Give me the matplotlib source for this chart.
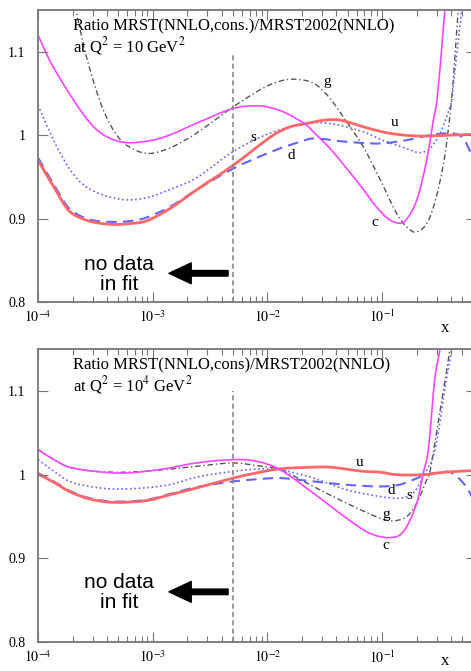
import numpy as np
import matplotlib
matplotlib.use('Agg')
import matplotlib.pyplot as plt
from matplotlib.path import Path
from matplotlib.patches import PathPatch
from matplotlib.ticker import FixedLocator, LogLocator, NullFormatter

plt.rcParams['font.family'] = ['Liberation Serif', 'DejaVu Serif']
plt.rcParams['mathtext.fontset'] = 'stix'

# ratio curves at Q^2 = 10 GeV^2 (log10 x, ratio)
lx_u10 = [-4.0, -3.85, -3.727, -3.55, -3.349, -3.2, -3.058, -2.85, -2.622, -2.297, -1.949, -1.8, -1.657,
          -1.5, -1.367, -1.164, -1.0, -0.873, -0.7, -0.582, -0.4, -0.18]
u10 = [0.970, 0.935, 0.909, 0.897, 0.893, 0.894, 0.897, 0.912, 0.934, 0.964, 1.000, 1.010, 1.014,
       1.018, 1.018, 1.010, 1.004, 1.001, 0.999, 0.999, 1.000, 1.001]

lx_d10 = [-4.0, -3.85, -3.727, -3.55, -3.349, -3.2, -3.058, -2.85, -2.622, -2.297, -1.949, -1.716, -1.6,
          -1.309, -1.018, -0.786, -0.582, -0.379, -0.292, -0.225, -0.18]
d10 = [0.973, 0.938, 0.912, 0.899, 0.896, 0.897, 0.901, 0.914, 0.934, 0.960, 0.981, 0.992, 0.996,
       0.992, 0.990, 0.994, 1.000, 1.002, 0.996, 0.978, 0.962]

lx_s10 = [-4.0, -3.85, -3.727, -3.6, -3.436, -3.233, -3.05, -2.855, -2.622, -2.297, -1.949, -1.657, -1.454,
          -1.164, -1.0, -0.873, -0.75, -0.670, -0.582, -0.495, -0.437, -0.393, -0.379, -0.306, -0.28]
s10 = [1.036, 0.990, 0.960, 0.940, 0.9285, 0.9225, 0.925, 0.9345, 0.9485, 0.9805, 1.004, 1.014, 1.014,
       1.004, 0.994, 0.988, 0.982, 0.979, 0.984, 1.002, 1.022, 1.042, 1.060, 1.150, 1.18]

lx_g10 = [-3.70, -3.663, -3.582, -3.436, -3.291, -3.15, -3.03, -2.9, -2.797, -2.622, -2.297, -2.093, -1.95,
          -1.803, -1.65, -1.570, -1.454, -1.309, -1.164, -1.018, -0.873, -0.786, -0.698, -0.582, -0.466,
          -0.393, -0.336, -0.31]
g10 = [1.17, 1.146, 1.096, 1.032, 0.996, 0.982, 0.978, 0.982, 0.988, 1.002, 1.034, 1.052, 1.062,
       1.067, 1.065, 1.060, 1.044, 1.016, 0.986, 0.947, 0.906, 0.890, 0.884, 0.902, 0.965,
       1.045, 1.150, 1.19]

lx_c10 = [-4.0, -3.9, -3.8, -3.727, -3.6, -3.5, -3.4, -3.233, -3.0, -2.855, -2.622, -2.297, -2.065, -1.9,
          -1.803, -1.657, -1.6, -1.454, -1.309, -1.164, -1.05, -0.95, -0.873, -0.8, -0.698, -0.611,
          -0.553, -0.519, -0.466, -0.44]
c10 = [1.120, 1.090, 1.066, 1.050, 1.024, 1.008, 0.998, 0.991, 0.994, 1.000, 1.014, 1.032, 1.035, 1.030,
       1.024, 1.012, 1.004, 0.984, 0.960, 0.935, 0.914, 0.900, 0.895, 0.897, 0.922, 0.970,
       1.018, 1.045, 1.128, 1.17]

# ratio curves at Q^2 = 10^4 GeV^2
lx_u4 = [-4.0, -3.85, -3.727, -3.55, -3.349, -3.058, -2.85, -2.622, -2.297, -2.1, -1.890, -1.6, -1.454,
         -1.164, -1.018, -0.873, -0.641, -0.45, -0.18]
u4 = [1.001, 0.990, 0.980, 0.971, 0.967, 0.969, 0.976, 0.984, 0.996, 1.002, 1.007, 1.009, 1.009,
      1.004, 1.003, 1.000, 1.000, 1.003, 1.005]

lx_d4 = [-4.0, -3.85, -3.727, -3.55, -3.349, -3.058, -2.85, -2.622, -2.297, -2.05, -1.890, -1.600, -1.309,
         -1.018, -0.85, -0.728, -0.611, -0.408, -0.292, -0.225, -0.18]
d4 = [1.002, 0.991, 0.981, 0.972, 0.968, 0.970, 0.977, 0.985, 0.992, 0.995, 0.996, 0.992, 0.988,
      0.986, 0.988, 0.994, 1.000, 1.003, 0.990, 0.976, 0.962]

lx_s4 = [-4.0, -3.85, -3.727, -3.55, -3.349, -3.1, -2.855, -2.622, -2.297, -2.05, -1.890, -1.600, -1.309,
         -1.018, -0.844, -0.728, -0.641, -0.539, -0.437, -0.393, -0.37]
s4 = [1.018, 1.003, 0.992, 0.986, 0.983, 0.984, 0.988, 0.997, 1.004, 1.007, 1.006, 0.996, 0.982,
      0.974, 0.972, 0.978, 0.998, 1.030, 1.116, 1.150, 1.18]

lx_g4 = [-4.0, -3.85, -3.727, -3.5, -3.233, -2.9, -2.622, -2.297, -2.1, -1.890, -1.600, -1.309, -1.018,
         -0.902, -0.786, -0.698, -0.611, -0.582, -0.495, -0.408, -0.39]
g4 = [1.030, 1.017, 1.009, 1.004, 1.003, 1.006, 1.010, 1.014, 1.011, 1.006, 0.986, 0.966, 0.948,
      0.945, 0.950, 0.966, 0.994, 1.004, 1.076, 1.150, 1.17]

lx_c4 = [-4.0, -3.85, -3.727, -3.5, -3.233, -2.9, -2.622, -2.297, -2.093, -1.890, -1.600, -1.309, -1.106,
         -0.932, -0.815, -0.698, -0.641, -0.597, -0.539, -0.495, -0.48]
c4 = [1.030, 1.017, 1.009, 1.004, 1.002, 1.007, 1.014, 1.018, 1.016, 1.006, 0.978, 0.948, 0.930,
      0.925, 0.932, 0.966, 1.002, 1.030, 1.116, 1.150, 1.17]

# curve labels (log10 x, ratio)
labels10 = {'g': (-1.483, 1.064), 'u': (-0.887, 1.015), 's': (-2.123, 0.997), 'd': (-1.788, 0.976), 'c': (-1.062, 0.895)}
labels4 = {'u': (-1.193, 1.015), 'd': (-0.922, 0.981), 's': (-0.763, 0.975), 'g': (-0.966, 0.953), 'c': (-0.966, 0.915)}

titles = ['Ratio MRST(NNLO,cons.)/MRST2002(NNLO)', 'Ratio MRST(NNLO,cons)/MRST2002(NNLO)']
subtitles = [r'at Q$^2$ = 10 GeV$^2$', r'at Q$^2$ = 10$^4$ GeV$^2$']

styles = {
    'c': dict(color='#ff44ff', lw=1.2, ls='-'),
    'u': dict(color='#ff6868', lw=2.0, ls='-'),
    'd': dict(color='#6464ff', lw=1.5, ls=(0, (5, 3))),
    's': dict(color='#6464ff', lw=1.2, ls=(0, (1, 1.6))),
    'g': dict(color='#555555', lw=1.0, ls=(0, (4, 2, 1, 2))),
}

panels = [
    {'u': (lx_u10, u10), 'd': (lx_d10, d10), 's': (lx_s10, s10), 'g': (lx_g10, g10), 'c': (lx_c10, c10)},
    {'u': (lx_u4, u4), 'd': (lx_d4, d4), 's': (lx_s4, s4), 'g': (lx_g4, g4), 'c': (lx_c4, c4)},
]


def smooth_path(lx, vals):
    # cubic Hermite segments through the points, built in log10(x) so the
    # log axis maps them back to straight Bezier control points
    lx = np.asarray(lx, float)
    v = np.asarray(vals, float)
    n = len(lx)
    m = np.empty(n)
    m[0] = (v[1] - v[0]) / (lx[1] - lx[0])
    m[-1] = (v[-1] - v[-2]) / (lx[-1] - lx[-2])
    m[1:-1] = (v[2:] - v[:-2]) / (lx[2:] - lx[:-2])
    verts = [(lx[0], v[0])]
    codes = [Path.MOVETO]
    for k in range(n - 1):
        h = lx[k + 1] - lx[k]
        verts += [(lx[k] + h / 3, v[k] + m[k] * h / 3),
                  (lx[k + 1] - h / 3, v[k + 1] - m[k + 1] * h / 3),
                  (lx[k + 1], v[k + 1])]
        codes += [Path.CURVE4] * 3
    verts = np.array(verts)
    verts[:, 0] = 10 ** verts[:, 0]
    return Path(verts, codes)


fig = plt.figure(figsize=(4.71, 6.71), dpi=100)
W, H = 471, 671
# axes boxes in pixels: left, top, right, bottom
boxes = [(38, 10, 476, 302), (38, 349, 476, 642.3)]
xmax = 10 ** (-4 + (476 - 38) / 114.7)
arrow_y = [0.8344, 0.8602]
nodata_y = [0.094, 0.17]
xlab_y = [-0.09, -0.065]

for i, (curves, box) in enumerate(zip(panels, boxes)):
    l, t, r, b = box
    ax = fig.add_axes([l / W, 1 - b / H, (r - l) / W, (b - t) / H])
    ax.set_xscale('log')
    ax.set_xlim(1e-4, xmax)
    ax.set_ylim(0.8, 1.15)

    # cut between fitted and extrapolated region
    ax.plot([5e-3, 5e-3], [0.8, 1.1], color='#888888', lw=1.2, dashes=(3, 2))

    for name in ['g', 'd', 's', 'u', 'c']:
        lx, vals = curves[name]
        st = styles[name]
        ax.add_patch(PathPatch(smooth_path(lx, vals), facecolor='none', edgecolor=st['color'],
                               lw=st['lw'], ls=st['ls'], capstyle='butt'))

    labs = labels10 if i == 0 else labels4
    for name, (lx, v) in labs.items():
        ax.text(10 ** lx, v, name, fontsize=11, ha='center', va='center')

    ax.text(0.081, 0.945, titles[i], transform=ax.transAxes, fontsize=12, va='center')
    ax.text(0.081, 0.877, subtitles[i], transform=ax.transAxes, fontsize=12, va='center')

    ax.text(0.185, nodata_y[i], 'no data\nin fit', transform=ax.transAxes, fontsize=15,
            family='Liberation Sans', ha='center', va='center', linespacing=1.1)
    ax.annotate('', xy=(10 ** -2.858, arrow_y[i]), xytext=(10 ** -2.343, arrow_y[i]),
                arrowprops=dict(facecolor='black', edgecolor='black', width=4, headwidth=15,
                                headlength=16, shrink=0))

    ax.text(0.93, xlab_y[i], 'x', transform=ax.transAxes, fontsize=12, ha='center', va='center')

    ax.xaxis.set_major_locator(FixedLocator([1e-4, 1e-3, 1e-2, 1e-1]))
    ax.set_xticklabels([r'$10^{-4}$', r'$10^{-3}$', r'$10^{-2}$', r'$10^{-1}$'])
    ax.xaxis.set_minor_locator(LogLocator(base=10, subs=np.arange(2, 10)))
    ax.xaxis.set_minor_formatter(NullFormatter())
    ax.set_yticks([0.8, 0.9, 1.0, 1.1])
    ax.set_yticklabels(['0.8', '0.9', '1', '1.1'])

    ax.tick_params(which='both', direction='in', top=True, right=True, colors='#777777',
                   labelcolor='black', labelsize=10)
    ax.tick_params(which='major', length=7, width=0.8)
    ax.tick_params(which='minor', length=4, width=0.8)
    ax.tick_params(axis='x', pad=5)
    ax.tick_params(axis='y', pad=9)
    for sp in ax.spines.values():
        sp.set_color('#777777')
        sp.set_linewidth(1.3)

fig.savefig('out.png', dpi=100)
